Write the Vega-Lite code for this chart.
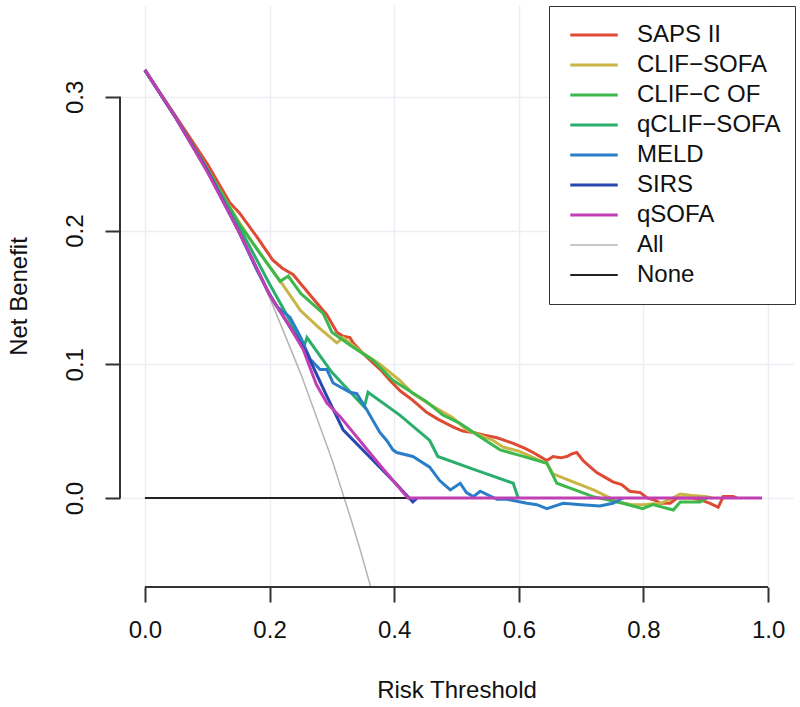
{
  "$schema": "https://vega.github.io/schema/vega-lite/v6.json",
  "width": 673,
  "height": 582,
  "autosize": {"type": "none"},
  "padding": {"left": 120, "top": 5, "right": 7, "bottom": 120},
  "background": "white",
  "config": {
    "view": {"stroke": null},
    "font": "Liberation Sans",
    "axis": {
      "domain": false,
      "gridColor": "#eceef3",
      "gridWidth": 1.5,
      "tickColor": "#333333",
      "tickWidth": 2,
      "tickSize": 15,
      "labelFont": "Liberation Sans",
      "labelFontSize": 24,
      "labelColor": "#111111",
      "titleFont": "Liberation Sans",
      "titleFontSize": 24,
      "titleFontWeight": "normal",
      "titleColor": "#111111"
    },
    "legend": {
      "labelFont": "Liberation Sans",
      "labelFontSize": 24,
      "labelColor": "#111111",
      "labelLimit": 400
    }
  },
  "datasets": {
    "curves": [
      {"model": "All", "t": 0.0, "nb": 0.32},
      {"model": "All", "t": 0.05, "nb": 0.284},
      {"model": "All", "t": 0.1, "nb": 0.244},
      {"model": "All", "t": 0.15, "nb": 0.2},
      {"model": "All", "t": 0.2, "nb": 0.15},
      {"model": "All", "t": 0.25, "nb": 0.093},
      {"model": "All", "t": 0.3, "nb": 0.029},
      {"model": "All", "t": 0.33, "nb": -0.015},
      {"model": "All", "t": 0.345, "nb": -0.038},
      {"model": "All", "t": 0.362, "nb": -0.066},
      {"model": "None", "t": 0.0, "nb": 0.0},
      {"model": "None", "t": 0.99, "nb": 0.0},

      {"model": "SAPS II", "t": 0.0, "nb": 0.32},
      {"model": "SAPS II", "t": 0.05, "nb": 0.285},
      {"model": "SAPS II", "t": 0.1, "nb": 0.25},
      {"model": "SAPS II", "t": 0.136, "nb": 0.221},
      {"model": "SAPS II", "t": 0.152, "nb": 0.213},
      {"model": "SAPS II", "t": 0.18, "nb": 0.195},
      {"model": "SAPS II", "t": 0.205, "nb": 0.178},
      {"model": "SAPS II", "t": 0.22, "nb": 0.172},
      {"model": "SAPS II", "t": 0.238, "nb": 0.167},
      {"model": "SAPS II", "t": 0.254, "nb": 0.158},
      {"model": "SAPS II", "t": 0.27, "nb": 0.149},
      {"model": "SAPS II", "t": 0.292, "nb": 0.137},
      {"model": "SAPS II", "t": 0.308, "nb": 0.124},
      {"model": "SAPS II", "t": 0.318, "nb": 0.121},
      {"model": "SAPS II", "t": 0.329, "nb": 0.12},
      {"model": "SAPS II", "t": 0.334, "nb": 0.116},
      {"model": "SAPS II", "t": 0.35, "nb": 0.108},
      {"model": "SAPS II", "t": 0.366, "nb": 0.101},
      {"model": "SAPS II", "t": 0.38, "nb": 0.095},
      {"model": "SAPS II", "t": 0.393, "nb": 0.088},
      {"model": "SAPS II", "t": 0.41, "nb": 0.08},
      {"model": "SAPS II", "t": 0.43, "nb": 0.073},
      {"model": "SAPS II", "t": 0.452, "nb": 0.064},
      {"model": "SAPS II", "t": 0.47, "nb": 0.059},
      {"model": "SAPS II", "t": 0.495, "nb": 0.053},
      {"model": "SAPS II", "t": 0.51, "nb": 0.05},
      {"model": "SAPS II", "t": 0.527, "nb": 0.049},
      {"model": "SAPS II", "t": 0.545, "nb": 0.047},
      {"model": "SAPS II", "t": 0.565, "nb": 0.045},
      {"model": "SAPS II", "t": 0.59, "nb": 0.041},
      {"model": "SAPS II", "t": 0.61, "nb": 0.037},
      {"model": "SAPS II", "t": 0.623, "nb": 0.034},
      {"model": "SAPS II", "t": 0.634, "nb": 0.031},
      {"model": "SAPS II", "t": 0.645, "nb": 0.028},
      {"model": "SAPS II", "t": 0.655, "nb": 0.031},
      {"model": "SAPS II", "t": 0.667, "nb": 0.03},
      {"model": "SAPS II", "t": 0.677, "nb": 0.031},
      {"model": "SAPS II", "t": 0.685, "nb": 0.033},
      {"model": "SAPS II", "t": 0.693, "nb": 0.034},
      {"model": "SAPS II", "t": 0.703, "nb": 0.028},
      {"model": "SAPS II", "t": 0.715, "nb": 0.023},
      {"model": "SAPS II", "t": 0.725, "nb": 0.019},
      {"model": "SAPS II", "t": 0.74, "nb": 0.015},
      {"model": "SAPS II", "t": 0.751, "nb": 0.012},
      {"model": "SAPS II", "t": 0.765, "nb": 0.01},
      {"model": "SAPS II", "t": 0.778, "nb": 0.005},
      {"model": "SAPS II", "t": 0.795, "nb": 0.004},
      {"model": "SAPS II", "t": 0.806, "nb": 0.0},
      {"model": "SAPS II", "t": 0.82, "nb": -0.002},
      {"model": "SAPS II", "t": 0.827, "nb": -0.004},
      {"model": "SAPS II", "t": 0.843, "nb": -0.004},
      {"model": "SAPS II", "t": 0.854, "nb": 0.0},
      {"model": "SAPS II", "t": 0.88, "nb": 0.0},
      {"model": "SAPS II", "t": 0.895, "nb": -0.002},
      {"model": "SAPS II", "t": 0.907, "nb": -0.004},
      {"model": "SAPS II", "t": 0.92, "nb": -0.007},
      {"model": "SAPS II", "t": 0.928, "nb": 0.001},
      {"model": "SAPS II", "t": 0.944, "nb": 0.001},
      {"model": "SAPS II", "t": 0.95, "nb": 0.0},

      {"model": "CLIF−SOFA", "t": 0.0, "nb": 0.32},
      {"model": "CLIF−SOFA", "t": 0.05, "nb": 0.284},
      {"model": "CLIF−SOFA", "t": 0.1, "nb": 0.246},
      {"model": "CLIF−SOFA", "t": 0.15, "nb": 0.207},
      {"model": "CLIF−SOFA", "t": 0.174, "nb": 0.19},
      {"model": "CLIF−SOFA", "t": 0.2, "nb": 0.173},
      {"model": "CLIF−SOFA", "t": 0.222, "nb": 0.159},
      {"model": "CLIF−SOFA", "t": 0.25, "nb": 0.14},
      {"model": "CLIF−SOFA", "t": 0.28, "nb": 0.127},
      {"model": "CLIF−SOFA", "t": 0.308, "nb": 0.116},
      {"model": "CLIF−SOFA", "t": 0.318, "nb": 0.12},
      {"model": "CLIF−SOFA", "t": 0.345, "nb": 0.11},
      {"model": "CLIF−SOFA", "t": 0.377, "nb": 0.1},
      {"model": "CLIF−SOFA", "t": 0.409, "nb": 0.088},
      {"model": "CLIF−SOFA", "t": 0.43, "nb": 0.078},
      {"model": "CLIF−SOFA", "t": 0.457, "nb": 0.07},
      {"model": "CLIF−SOFA", "t": 0.494, "nb": 0.06},
      {"model": "CLIF−SOFA", "t": 0.516, "nb": 0.051},
      {"model": "CLIF−SOFA", "t": 0.559, "nb": 0.043},
      {"model": "CLIF−SOFA", "t": 0.575, "nb": 0.038},
      {"model": "CLIF−SOFA", "t": 0.6, "nb": 0.035},
      {"model": "CLIF−SOFA", "t": 0.639, "nb": 0.027},
      {"model": "CLIF−SOFA", "t": 0.645, "nb": 0.026},
      {"model": "CLIF−SOFA", "t": 0.655, "nb": 0.018},
      {"model": "CLIF−SOFA", "t": 0.687, "nb": 0.012},
      {"model": "CLIF−SOFA", "t": 0.72, "nb": 0.006},
      {"model": "CLIF−SOFA", "t": 0.742, "nb": 0.001},
      {"model": "CLIF−SOFA", "t": 0.758, "nb": -0.003},
      {"model": "CLIF−SOFA", "t": 0.783, "nb": -0.005},
      {"model": "CLIF−SOFA", "t": 0.8, "nb": -0.005},
      {"model": "CLIF−SOFA", "t": 0.827, "nb": -0.004},
      {"model": "CLIF−SOFA", "t": 0.843, "nb": -0.001},
      {"model": "CLIF−SOFA", "t": 0.859, "nb": 0.003},
      {"model": "CLIF−SOFA", "t": 0.875, "nb": 0.002},
      {"model": "CLIF−SOFA", "t": 0.902, "nb": 0.001},
      {"model": "CLIF−SOFA", "t": 0.91, "nb": 0.0},

      {"model": "CLIF−C OF", "t": 0.0, "nb": 0.32},
      {"model": "CLIF−C OF", "t": 0.05, "nb": 0.284},
      {"model": "CLIF−C OF", "t": 0.1, "nb": 0.246},
      {"model": "CLIF−C OF", "t": 0.15, "nb": 0.206},
      {"model": "CLIF−C OF", "t": 0.174, "nb": 0.19},
      {"model": "CLIF−C OF", "t": 0.2, "nb": 0.173},
      {"model": "CLIF−C OF", "t": 0.217, "nb": 0.162},
      {"model": "CLIF−C OF", "t": 0.23, "nb": 0.166},
      {"model": "CLIF−C OF", "t": 0.25, "nb": 0.153},
      {"model": "CLIF−C OF", "t": 0.286, "nb": 0.138},
      {"model": "CLIF−C OF", "t": 0.3, "nb": 0.124},
      {"model": "CLIF−C OF", "t": 0.33, "nb": 0.114},
      {"model": "CLIF−C OF", "t": 0.366, "nb": 0.103},
      {"model": "CLIF−C OF", "t": 0.398, "nb": 0.088},
      {"model": "CLIF−C OF", "t": 0.452, "nb": 0.072},
      {"model": "CLIF−C OF", "t": 0.478, "nb": 0.062},
      {"model": "CLIF−C OF", "t": 0.505, "nb": 0.056},
      {"model": "CLIF−C OF", "t": 0.54, "nb": 0.045},
      {"model": "CLIF−C OF", "t": 0.57, "nb": 0.036},
      {"model": "CLIF−C OF", "t": 0.6, "nb": 0.032},
      {"model": "CLIF−C OF", "t": 0.645, "nb": 0.026},
      {"model": "CLIF−C OF", "t": 0.661, "nb": 0.011},
      {"model": "CLIF−C OF", "t": 0.69, "nb": 0.006},
      {"model": "CLIF−C OF", "t": 0.719, "nb": 0.001},
      {"model": "CLIF−C OF", "t": 0.767, "nb": -0.004},
      {"model": "CLIF−C OF", "t": 0.799, "nb": -0.008},
      {"model": "CLIF−C OF", "t": 0.815, "nb": -0.005},
      {"model": "CLIF−C OF", "t": 0.848, "nb": -0.009},
      {"model": "CLIF−C OF", "t": 0.859, "nb": -0.003},
      {"model": "CLIF−C OF", "t": 0.891, "nb": -0.003},
      {"model": "CLIF−C OF", "t": 0.902, "nb": 0.0},

      {"model": "qCLIF−SOFA", "t": 0.0, "nb": 0.32},
      {"model": "qCLIF−SOFA", "t": 0.05, "nb": 0.284},
      {"model": "qCLIF−SOFA", "t": 0.1, "nb": 0.245},
      {"model": "qCLIF−SOFA", "t": 0.15, "nb": 0.204},
      {"model": "qCLIF−SOFA", "t": 0.2, "nb": 0.16},
      {"model": "qCLIF−SOFA", "t": 0.23, "nb": 0.135},
      {"model": "qCLIF−SOFA", "t": 0.255, "nb": 0.113},
      {"model": "qCLIF−SOFA", "t": 0.26, "nb": 0.12},
      {"model": "qCLIF−SOFA", "t": 0.3, "nb": 0.094},
      {"model": "qCLIF−SOFA", "t": 0.352, "nb": 0.068},
      {"model": "qCLIF−SOFA", "t": 0.358, "nb": 0.079},
      {"model": "qCLIF−SOFA", "t": 0.409, "nb": 0.062},
      {"model": "qCLIF−SOFA", "t": 0.457, "nb": 0.043},
      {"model": "qCLIF−SOFA", "t": 0.47, "nb": 0.031},
      {"model": "qCLIF−SOFA", "t": 0.53, "nb": 0.021},
      {"model": "qCLIF−SOFA", "t": 0.591, "nb": 0.011},
      {"model": "qCLIF−SOFA", "t": 0.599, "nb": 0.0},

      {"model": "MELD", "t": 0.0, "nb": 0.32},
      {"model": "MELD", "t": 0.05, "nb": 0.284},
      {"model": "MELD", "t": 0.1, "nb": 0.245},
      {"model": "MELD", "t": 0.15, "nb": 0.2},
      {"model": "MELD", "t": 0.18, "nb": 0.17},
      {"model": "MELD", "t": 0.196, "nb": 0.156},
      {"model": "MELD", "t": 0.212, "nb": 0.143},
      {"model": "MELD", "t": 0.233, "nb": 0.135},
      {"model": "MELD", "t": 0.25, "nb": 0.12},
      {"model": "MELD", "t": 0.265, "nb": 0.104},
      {"model": "MELD", "t": 0.281, "nb": 0.096},
      {"model": "MELD", "t": 0.292, "nb": 0.096},
      {"model": "MELD", "t": 0.302, "nb": 0.086},
      {"model": "MELD", "t": 0.329, "nb": 0.079},
      {"model": "MELD", "t": 0.34, "nb": 0.078},
      {"model": "MELD", "t": 0.356, "nb": 0.066},
      {"model": "MELD", "t": 0.377, "nb": 0.049},
      {"model": "MELD", "t": 0.388, "nb": 0.043},
      {"model": "MELD", "t": 0.398, "nb": 0.036},
      {"model": "MELD", "t": 0.404, "nb": 0.034},
      {"model": "MELD", "t": 0.43, "nb": 0.031},
      {"model": "MELD", "t": 0.457, "nb": 0.023},
      {"model": "MELD", "t": 0.473, "nb": 0.013},
      {"model": "MELD", "t": 0.49, "nb": 0.006},
      {"model": "MELD", "t": 0.506, "nb": 0.011},
      {"model": "MELD", "t": 0.516, "nb": 0.004},
      {"model": "MELD", "t": 0.527, "nb": 0.001},
      {"model": "MELD", "t": 0.538, "nb": 0.005},
      {"model": "MELD", "t": 0.565, "nb": -0.001},
      {"model": "MELD", "t": 0.581, "nb": -0.001},
      {"model": "MELD", "t": 0.613, "nb": -0.004},
      {"model": "MELD", "t": 0.629, "nb": -0.005},
      {"model": "MELD", "t": 0.645, "nb": -0.008},
      {"model": "MELD", "t": 0.671, "nb": -0.004},
      {"model": "MELD", "t": 0.7, "nb": -0.005},
      {"model": "MELD", "t": 0.73, "nb": -0.006},
      {"model": "MELD", "t": 0.751, "nb": -0.004},
      {"model": "MELD", "t": 0.767, "nb": 0.0},

      {"model": "SIRS", "t": 0.0, "nb": 0.32},
      {"model": "SIRS", "t": 0.05, "nb": 0.284},
      {"model": "SIRS", "t": 0.1, "nb": 0.245},
      {"model": "SIRS", "t": 0.15, "nb": 0.2},
      {"model": "SIRS", "t": 0.2, "nb": 0.152},
      {"model": "SIRS", "t": 0.23, "nb": 0.13},
      {"model": "SIRS", "t": 0.26, "nb": 0.108},
      {"model": "SIRS", "t": 0.29, "nb": 0.078},
      {"model": "SIRS", "t": 0.318, "nb": 0.051},
      {"model": "SIRS", "t": 0.36, "nb": 0.031},
      {"model": "SIRS", "t": 0.4, "nb": 0.012},
      {"model": "SIRS", "t": 0.43, "nb": -0.003},
      {"model": "SIRS", "t": 0.437, "nb": 0.0},

      {"model": "qSOFA", "t": 0.0, "nb": 0.32},
      {"model": "qSOFA", "t": 0.05, "nb": 0.284},
      {"model": "qSOFA", "t": 0.1, "nb": 0.244},
      {"model": "qSOFA", "t": 0.15, "nb": 0.2},
      {"model": "qSOFA", "t": 0.2, "nb": 0.152},
      {"model": "qSOFA", "t": 0.23, "nb": 0.13},
      {"model": "qSOFA", "t": 0.254, "nb": 0.111},
      {"model": "qSOFA", "t": 0.275, "nb": 0.085},
      {"model": "qSOFA", "t": 0.292, "nb": 0.071},
      {"model": "qSOFA", "t": 0.313, "nb": 0.061},
      {"model": "qSOFA", "t": 0.35, "nb": 0.04},
      {"model": "qSOFA", "t": 0.38, "nb": 0.023},
      {"model": "qSOFA", "t": 0.422, "nb": 0.0},
      {"model": "qSOFA", "t": 0.99, "nb": 0.0}
    ],
    "yaxis": [{"t": -0.04, "lo": 0.0, "hi": 0.3}],
    "xaxis": [{"lo": 0.0, "hi": 1.0, "nb": -0.0666}]
  },
  "layer": [
    {
      "data": {"name": "curves"},
      "mark": {"type": "line", "clip": true, "strokeCap": "butt"},
      "encoding": {
        "x": {
          "field": "t", "type": "quantitative",
          "scale": {"domain": [-0.04, 1.04], "nice": false, "zero": false},
          "axis": {"values": [0, 0.2, 0.4, 0.6, 0.8, 1.0], "format": ".1f", "title": "Risk Threshold", "labelPadding": 16, "titlePadding": 36}
        },
        "y": {
          "field": "nb", "type": "quantitative",
          "scale": {"domain": [-0.0666, 0.3687], "nice": false, "zero": false},
          "axis": {"values": [0, 0.1, 0.2, 0.3], "format": ".1f", "title": "Net Benefit", "labelAngle": 270, "labelAlign": "center", "labelBaseline": "bottom", "labelPadding": 18, "titlePadding": 32}
        },
        "color": {
          "field": "model", "type": "nominal",
          "scale": {
            "domain": ["SAPS II", "CLIF−SOFA", "CLIF−C OF", "qCLIF−SOFA", "MELD", "SIRS", "qSOFA", "All", "None"],
            "range": ["#de4a34", "#c9b445", "#3db84c", "#2aae6c", "#2a7ec8", "#2a46b0", "#c040b4", "#b4b4b4", "#222222"]
          },
          "legend": {
            "title": null,
            "orient": "none",
            "legendX": 429,
            "legendY": 1,
            "symbolType": "M-2.5,0H2.5",
            "symbolSize": 361,
            "symbolOffset": 19,
            "labelOffset": 31,
            "padding": 14,
            "rowPadding": 0,
            "clipHeight": 30,
            "strokeColor": "#333333",
            "fillColor": "white"
          }
        },
        "strokeWidth": {
          "field": "model", "type": "nominal",
          "scale": {
            "type": "ordinal",
            "domain": ["SAPS II", "CLIF−SOFA", "CLIF−C OF", "qCLIF−SOFA", "MELD", "SIRS", "qSOFA", "All", "None"],
            "range": [3, 3, 3, 3, 3, 3, 3, 1.5, 2]
          },
          "legend": null
        }
      }
    },
    {
      "data": {"name": "yaxis"},
      "mark": {"type": "rule", "color": "#333333", "strokeWidth": 2},
      "encoding": {"x": {"field": "t", "type": "quantitative"}, "y": {"field": "lo", "type": "quantitative"}, "y2": {"field": "hi"}}
    },
    {
      "data": {"name": "xaxis"},
      "mark": {"type": "rule", "color": "#333333", "strokeWidth": 2},
      "encoding": {"x": {"field": "lo", "type": "quantitative"}, "x2": {"field": "hi"}, "y": {"field": "nb", "type": "quantitative"}}
    }
  ]
}
